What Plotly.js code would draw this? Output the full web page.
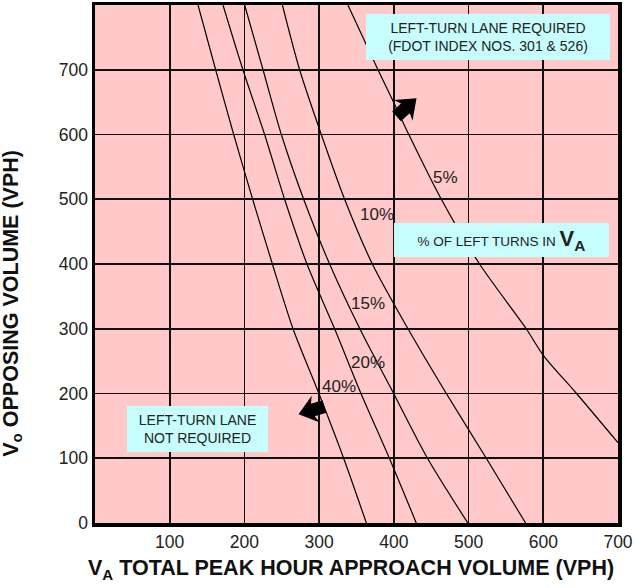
<!DOCTYPE html>
<html>
<head>
<meta charset="utf-8">
<script src="https://cdn.plot.ly/plotly-3.0.1.min.js"></script>
<style>html,body{margin:0;padding:0;background:#fff;}#chart{width:635px;height:588px;}</style>
</head>
<body>
<div id="chart"></div>
<script>
// Opposing volume Vo (VPH) and total approach volume VA (VPH) for each curve
const curveLabels = ['40%', '20%', '15%', '10%', '5%'];
const vo40 = [800, 700, 600, 500, 400, 300, 200, 100, 0];
const va40 = [137.9, 161.5, 185.6, 211, 237.4, 265, 299.7, 332.8, 363.2];
const vo20 = [800, 700, 600, 500, 400, 300, 200, 100, 0];
const va20 = [171.3, 198, 227, 253.8, 283.7, 320.7, 356, 394, 430];
const vo15 = [800, 700, 600, 500, 400, 300, 200, 100, 0];
const va15 = [200.3, 224.9, 249.4, 279.3, 314, 354.5, 399.7, 445, 499];
const vo10 = [800, 700, 600, 500, 400, 300, 200, 100, 0];
const va10 = [250.8, 273.9, 302.9, 334.1, 371.2, 418.9, 470.2, 523.7, 576.3];
const vo5 = [800, 700, 649, 600, 500, 400, 300, 259, 200, 124];
const va5 = [338.5, 378.7, 400, 420, 463.5, 514.7, 577.2, 600, 644.5, 700];

const xTickVals = [100, 200, 300, 400, 500, 600, 700];
const yTickVals = [0, 100, 200, 300, 400, 500, 600, 700];

// label anchor points (data coords)
const labelX = [327, 365, 365.4, 377.6, 469];
const labelY = [211, 248.3, 338.4, 477, 534];

const FONT = 'Liberation Sans, Arial, Helvetica, sans-serif';
const BOX = '#c8fdfd';

const series = [[va40, vo40], [va20, vo20], [va15, vo15], [va10, vo10], [va5, vo5]];
const traces = series.map((s, i) => ({
  type: 'scatter', mode: 'lines', x: s[0], y: s[1], name: curveLabels[i],
  line: {color: '#000', width: 1.2, shape: 'spline', smoothing: 0.8},
  hoverinfo: 'skip'
}));

const annotations = curveLabels.map((t, i) => ({
  x: labelX[i], y: labelY[i], xref: 'x', yref: 'y', text: t, showarrow: false,
  font: {family: FONT, size: 17, color: '#222'}
}));

annotations.push(
  {x: 525.4, y: 750.6, xref: 'x', yref: 'y', showarrow: false,
   text: 'LEFT-TURN LANE REQUIRED<br>(FDOT INDEX NOS. 301 &amp; 526)',
   width: 244, height: 46, bgcolor: BOX, borderpad: 0, borderwidth: 0,
   font: {family: FONT, size: 14, color: '#222'}},
  {x: 543.5, y: 436.6, xref: 'x', yref: 'y', showarrow: false,
   text: '% OF LEFT TURNS IN <span style="font-size:22px"><b>V<sub>A</sub></b></span>',
   width: 215, height: 34, bgcolor: BOX, borderpad: 0, borderwidth: 0,
   font: {family: FONT, size: 13.5, color: '#222'}},
  {x: 136.8, y: 144.8, xref: 'x', yref: 'y', showarrow: false,
   text: 'LEFT-TURN LANE<br>NOT REQUIRED',
   width: 141, height: 46, bgcolor: BOX, borderpad: 0, borderwidth: 0,
   font: {family: FONT, size: 14, color: '#222'}},
  // axis titles
  {xref: 'paper', yref: 'paper', x: 0.49, y: -0.089, xanchor: 'center', yanchor: 'middle',
   showarrow: false, text: '<b>V<sub>A</sub> TOTAL PEAK HOUR APPROACH VOLUME (VPH)</b>',
   font: {family: FONT, size: 21.5, color: '#111'}},
  {xref: 'paper', yref: 'paper', x: -0.158, y: 0.424, xanchor: 'center', yanchor: 'middle',
   textangle: -90, showarrow: false, text: '<b>V<sub>o</sub> OPPOSING VOLUME (VPH)</b>',
   font: {family: FONT, size: 21.5, color: '#111'}}
);

// block arrow drawn in pixel offsets from a tail anchor (data coords)
function blockArrow(xa, ya, angleDeg) {
  const bw = 6.5, bl = 12, hw = 14, hl = 15, bk = 3;
  // local coords: along +u, perpendicular v
  const pts = [[0, -bw], [bl, -bw], [bl - bk, -hw], [bl + hl, 0], [bl - bk, hw], [bl, bw], [0, bw]];
  const a = angleDeg * Math.PI / 180;
  const c = Math.cos(a), s = Math.sin(a);
  const p = pts.map(([u, v]) => [u * c - v * s, u * s + v * c]);
  const path = 'M' + p.map(q => q[0].toFixed(2) + ',' + q[1].toFixed(2)).join(' L') + ' Z';
  return {type: 'path', xref: 'x', yref: 'y', xsizemode: 'pixel', ysizemode: 'pixel',
          xanchor: xa, yanchor: ya, path: path, fillcolor: '#000', line: {width: 0}};
}

const shapes = [
  blockArrow(403.5, 628, 42),    // up-right (y offsets positive = up)
  blockArrow(307, 180, 197)      // left, slightly down
];

const axisCommon = {
  showgrid: true, gridcolor: '#111', gridwidth: 1.8,
  showline: true, linecolor: '#000', linewidth: 3.5, mirror: true,
  zeroline: false, ticks: '', fixedrange: true,
  tickfont: {family: FONT, size: 17.5, color: '#222'}
};

const layout = {
  width: 635, height: 588,
  margin: {l: 95, r: 17, t: 5, b: 65},
  paper_bgcolor: '#fff', plot_bgcolor: '#ffc9c9',
  showlegend: false, hovermode: false,
  font: {family: FONT},
  xaxis: Object.assign({}, axisCommon, {range: [0, 700], tickvals: xTickVals, ticktext: xTickVals.map(String)}),
  yaxis: Object.assign({}, axisCommon, {range: [0, 800], tickvals: yTickVals, ticktext: yTickVals.map(String)}),
  annotations: annotations,
  shapes: shapes
};

Plotly.newPlot('chart', traces, layout, {staticPlot: true, displayModeBar: false});
</script>
</body>
</html>
